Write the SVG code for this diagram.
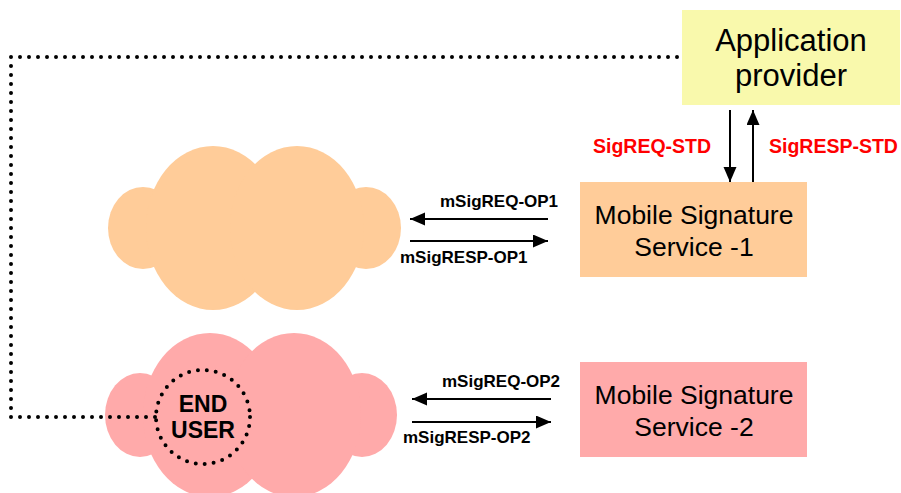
<svg xmlns="http://www.w3.org/2000/svg" width="901" height="493" viewBox="0 0 901 493">
  <style>
    .box-text { font-family: "Liberation Sans", Arial, sans-serif; fill: #000; text-anchor: middle; }
    .lbl { font-family: "Liberation Sans", Arial, sans-serif; font-weight: bold; font-size: 17px; fill: #000; }
    .std { font-family: "Liberation Sans", Arial, sans-serif; font-weight: bold; font-size: 19.5px; fill: #FF0000; }
    .arrow { stroke: #000; stroke-width: 2; fill: none; marker-end: url(#head); }
    .dots { stroke: #000; stroke-width: 4; fill: none; stroke-linecap: round; stroke-dasharray: 0 9; }
  </style>
  <defs>
    <marker id="head" markerUnits="userSpaceOnUse" markerWidth="16" markerHeight="14" refX="15" refY="6.5" orient="auto">
      <path d="M0,0 L15,6.5 L0,13 z" fill="#000"/>
    </marker>
  </defs>

  <rect width="901" height="493" fill="#fff"/>

  <!-- operator network 1 -->
  <g id="cloud-op1" fill="#FFCC99">
    <ellipse cx="143" cy="228" rx="35" ry="41"/>
    <ellipse cx="366" cy="228" rx="35" ry="41"/>
    <ellipse cx="213" cy="228" rx="67" ry="82"/>
    <ellipse cx="297" cy="228" rx="67" ry="82"/>
  </g>

  <!-- operator network 2 with the end user -->
  <g id="cloud-op2" fill="#FFAAAA">
    <ellipse cx="140" cy="415" rx="35" ry="42"/>
    <ellipse cx="362" cy="415" rx="35" ry="42"/>
    <ellipse cx="210" cy="415" rx="67" ry="82"/>
    <ellipse cx="294" cy="415" rx="67" ry="82"/>
  </g>

  <g id="end-user">
    <circle cx="203" cy="417" r="47" class="dots"/>
    <text x="203" y="412" class="box-text" font-weight="bold" font-size="23">END</text>
    <text x="203" y="438" class="box-text" font-weight="bold" font-size="23">USER</text>
  </g>

  <g id="app-provider">
    <rect x="682" y="10" width="218" height="95" fill="#F9F9AC"/>
    <text x="791" y="51" class="box-text" font-size="31">Application</text>
    <text x="791" y="86" class="box-text" font-size="31">provider</text>
  </g>

  <g id="mss-1">
    <rect x="580" y="182" width="227" height="95" fill="#FFCC99"/>
    <text x="694" y="224" class="box-text" font-size="26.5">Mobile Signature</text>
    <text x="694" y="256" class="box-text" font-size="26.5">Service -1</text>
  </g>

  <g id="mss-2">
    <rect x="580" y="362" width="227" height="95" fill="#FFAAAA"/>
    <text x="694" y="404" class="box-text" font-size="26.5">Mobile Signature</text>
    <text x="694" y="436" class="box-text" font-size="26.5">Service -2</text>
  </g>

  <g id="connectors">
    <!-- end user to application provider -->
    <path class="dots" d="M155,417 H11 V57 H682"/>

    <line class="arrow" x1="730" y1="110" x2="730" y2="182"/>
    <line class="arrow" x1="753" y1="182" x2="753" y2="110"/>
    <text x="593" y="153" class="std">SigREQ-STD</text>
    <text x="769" y="153" class="std">SigRESP-STD</text>

    <line class="arrow" x1="548" y1="219" x2="410" y2="219"/>
    <line class="arrow" x1="410" y1="241" x2="548" y2="241"/>
    <text x="440" y="207" class="lbl">mSigREQ-OP1</text>
    <text x="400" y="263" class="lbl">mSigRESP-OP1</text>

    <line class="arrow" x1="551" y1="399" x2="412" y2="399"/>
    <line class="arrow" x1="412" y1="422" x2="551" y2="422"/>
    <text x="442" y="387" class="lbl">mSigREQ-OP2</text>
    <text x="403" y="443" class="lbl">mSigRESP-OP2</text>
  </g>
</svg>
